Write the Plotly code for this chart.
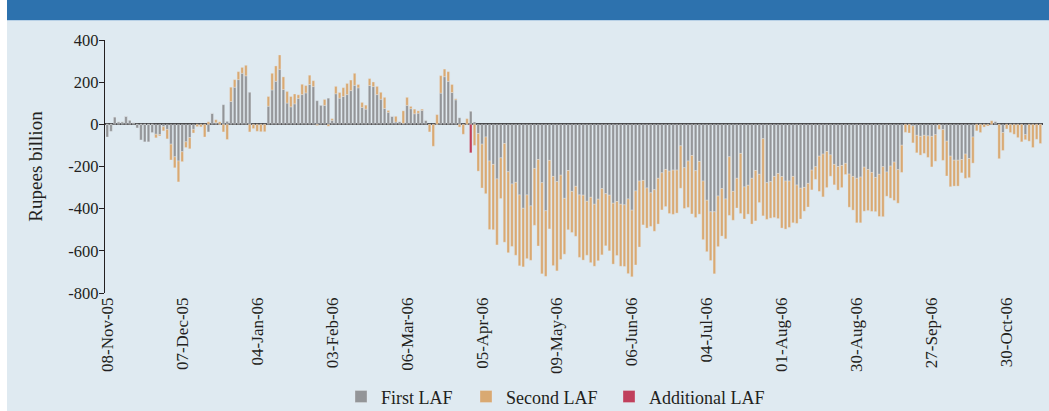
import plotly.graph_objects as go

tick_labels = ['08-Nov-05', '07-Dec-05', '04-Jan-06', '03-Feb-06', '06-Mar-06',
               '05-Apr-06', '09-May-06', '06-Jun-06', '04-Jul-06', '01-Aug-06',
               '30-Aug-06', '27-Sep-06', '30-Oct-06']
tick_every = 20
y_ticks = [400, 200, 0, -200, -400, -600, -800]
y_tick_labels = ['400', '200', '0', '-200', '-400', '-600', '-800']

first_laf = [
    -60, -33, 35, 12, 12, 38, 20, 8, -17, -74,
    -83, -83, -39, -47, -49, -11, -24, -94, -154, -174,
    -130, -83, -63, -24, 0, 0, 0, -36, 52, 8,
    0, 93, 14, 108, 176, 212, 242, 230, 152, 0,
    0, 0, 0, 86, 163, 204, 261, 165, 101, 83,
    97, 123, 141, 149, 189, 179, 112, 91, 90, 124,
    19, 145, 124, 132, 141, 160, 185, 173, 80, 72,
    184, 179, 141, 119, 75, 57, 38, 11, 13, 5,
    90, 74, 50, 53, 66, 19, 0, 0, 0, 148,
    226, 204, 151, 116, 31, 0, 0, 63, 11, -44,
    -94, -60, -174, -190, -259, -159, -91, -225, -283, -275,
    -335, -398, -335, -387, -209, -167, -277, -410, -171, -247,
    -272, -241, -351, -219, -318, -294, -335, -336, -365, -346,
    -379, -355, -305, -329, -336, -374, -366, -379, -382, -354,
    -407, -316, -269, -266, -302, -325, -310, -256, -230, -214,
    -222, -217, -217, -102, -206, -174, -148, -220, -176, -269,
    -360, -415, -415, -340, -305, -354, -154, -318, -256, -138,
    -297, -289, -256, -219, -237, -68, -277, -272, -247, -233,
    -248, -269, -269, -247, -288, -303, -299, -280, -217, -201,
    -151, -141, -129, -145, -190, -200, -195, -185, -236, -247,
    -256, -250, -203, -214, -228, -252, -237, -201, -226, -198,
    -179, -215, -99, 0, 0, -8, -52, -57, -52, -55,
    -57, -49, -2, -25, -80, -151, -170, -170, -167, -141,
    -162, -60, 0, 0, 0, 0, 0, 14, 0, -39,
    0, 0, 0, 0, 0, -49, 0, 0, 0, 0,
]

second_laf = [
    0, 0, 0, 0, 0, 0, 0, 0, 0, 0,
    0, 0, 0, -17, -6, -20, -45, -75, -52, -99,
    -47, -27, -53, -17, -11, -12, -60, 12, 0, 14,
    12, -36, -72, 68, 36, 38, 28, 50, -36, -20,
    -33, -35, -35, 46, 79, 73, 68, 60, 55, 49,
    47, 17, 49, 35, 44, 28, -5, 0, 28, -9,
    8, 35, 27, 42, 53, 50, 57, 16, 24, 19,
    33, 22, 39, 33, 53, 9, 0, 27, 0, 59,
    38, 11, 22, 11, 6, 0, -36, -104, 46, 83,
    36, 46, 38, 5, -13, -47, 27, 0, -100, -178,
    -208, -269, -325, -310, -313, -193, -468, -384, -296, -346,
    -336, -278, -302, -258, -270, -410, -432, -311, -325, -423,
    -423, -400, -265, -281, -195, -237, -296, -308, -256, -310,
    -294, -292, -314, -247, -264, -289, -256, -294, -292, -354,
    -316, -351, -313, -211, -190, -159, -197, -217, -176, -176,
    -201, -210, -204, -201, -193, -220, -277, -222, -250, -278,
    -244, -231, -294, -240, -225, -189, -278, -137, -141, -285,
    -152, -137, -217, -239, -134, -366, -174, -173, -195, -214,
    -244, -228, -220, -220, -182, -146, -113, -112, -94, -60,
    -167, -203, -171, -101, -97, -112, -105, -53, -157, -160,
    -211, -217, -209, -195, -185, -162, -200, -237, -115, -152,
    -182, -159, -129, -38, -41, -80, -83, -89, -86, -102,
    -145, -126, -22, -146, -165, -145, -123, -123, -63, -115,
    -91, -124, -31, -39, -13, -8, 17, 0, -163, -85,
    -22, -39, -47, -63, -83, -24, -80, -110, -71, -91,
]

additional_day = [97]
additional_laf = [-135]

day = list(range(len(first_laf)))
tick_vals = [i * tick_every for i in range(len(tick_labels))]

GRAY = '#939598'
TAN = '#d9a972'
RED = '#c0405c'
TEXT = '#231f20'
BG = '#dfeaf1'
BAND = '#2d72ae'
FONT = 'Liberation Serif'
edge = dict(color='rgba(235,238,240,0.55)', width=0.6)

W, H = 1049, 421          # page drawn slightly taller; capture maps it to 411
VS = H / 411.0            # vertical factor from reference pixels to page pixels
L, R = 105, 6
T = round(39 * VS)
B = H - round(293 * VS)
pw, ph = W - L - R, H - T - B


def px_x(x):
    return (x - L) / pw


def px_y(y_ref):
    return (H - B - y_ref * VS) / ph


fig = go.Figure()
fig.add_trace(go.Bar(x=day, y=first_laf, name='First LAF', legend='legend',
                     marker=dict(color=GRAY, line=edge)))
fig.add_trace(go.Bar(x=day, y=second_laf, name='Second LAF', legend='legend2',
                     marker=dict(color=TAN, line=edge)))
fig.add_trace(go.Bar(x=additional_day, y=additional_laf, name='Additional LAF',
                     legend='legend3', marker=dict(color=RED, line=edge)))

legend_font = dict(family=FONT, size=18, color=TEXT)


def legend_at(symbol_center_px):
    return dict(orientation='h', x=px_x(symbol_center_px - 25), xanchor='left',
                y=px_y(397), yanchor='middle', font=legend_font,
                bgcolor='rgba(0,0,0,0)')


fig.update_layout(
    width=W, height=H, autosize=False,
    margin=dict(l=L, r=R, t=T, b=B),
    barmode='relative', bargap=0.32,
    paper_bgcolor='white', plot_bgcolor=BG,
    font=dict(family=FONT, color=TEXT, size=16),
    showlegend=True,
    legend=legend_at(366),
    legend2=legend_at(491),
    legend3=legend_at(634),
    shapes=[
        dict(type='rect', xref='paper', yref='paper', layer='below',
             x0=px_x(7), x1=px_x(1060), y0=px_y(440), y1=px_y(19),
             fillcolor=BG, line=dict(width=0)),
        dict(type='rect', xref='paper', yref='paper', layer='below',
             x0=px_x(7), x1=px_x(1060), y0=px_y(19), y1=px_y(-10),
             fillcolor=BAND, line=dict(width=0)),
        dict(type='line', xref='paper', yref='paper', layer='below',
             x0=px_x(7), x1=px_x(1060), y0=px_y(19.5), y1=px_y(19.5),
             line=dict(color='#b7d0e6', width=1)),
    ],
)

fig.update_xaxes(
    range=[-0.6, len(first_laf) - 0.3],
    tickmode='array', tickvals=tick_vals, ticktext=tick_labels,
    tickangle=-90, ticks='', showline=False, showgrid=False, zeroline=False,
    tickfont=dict(family=FONT, size=17, color=TEXT),
)

fig.update_yaxes(
    range=[-800, 400],
    tickmode='array', tickvals=y_ticks, ticktext=y_tick_labels,
    ticks='outside', ticklen=5, tickwidth=1.4, tickcolor=TEXT,
    showline=True, linecolor=TEXT, linewidth=1.4,
    showgrid=False, ticklabelstandoff=-3,
    zeroline=True, zerolinecolor='#444446', zerolinewidth=2.2,
    tickfont=dict(family=FONT, size=16.5, color=TEXT),
    title=dict(text='Rupees billion', font=dict(family=FONT, size=19, color=TEXT),
               standoff=20),
)

page_fix = (
    "document.documentElement.style.overflow='hidden';"
    "document.body.style.margin='0px';"
    "document.body.style.overflow='hidden';"
    "var gd=document.getElementById('{plot_id}');"
    "gd.style.position='absolute';gd.style.left='0px';gd.style.top='0px';"
)

fig.write_html('out.html', config={'responsive': False, 'displayModeBar': False},
               post_script=page_fix)
